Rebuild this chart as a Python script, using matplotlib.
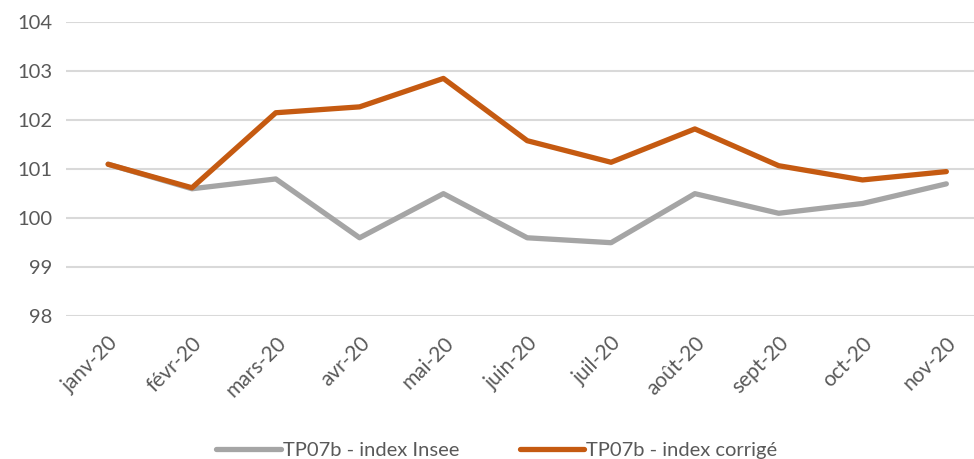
import matplotlib.pyplot as plt

months = ['janv-20', 'févr-20', 'mars-20', 'avr-20', 'mai-20', 'juin-20',
          'juil-20', 'août-20', 'sept-20', 'oct-20', 'nov-20']
insee = [101.1, 100.6, 100.8, 99.6, 100.5, 99.6, 99.5, 100.5, 100.1, 100.3, 100.7]
corrige = [101.1, 100.62, 102.15, 102.27, 102.85, 101.58, 101.14, 101.82, 101.07, 100.78, 100.95]

plt.rcParams['font.family'] = ['Lato', 'DejaVu Sans']

fig = plt.figure(figsize=(9.74, 4.59), dpi=100)
ax = fig.add_axes([0.068, 0.311, 0.932, 0.641])

x = list(range(len(months)))
ax.plot(x, insee, color='#A5A5A5', linewidth=3.8, label='TP07b - index Insee',
        solid_joinstyle='round', solid_capstyle='round', zorder=3)
ax.plot(x, corrige, color='#C55A11', linewidth=3.8, label='TP07b - index corrigé',
        solid_joinstyle='round', solid_capstyle='round', zorder=4)

ax.set_xlim(-0.5, 10.33)
ax.set_ylim(98, 104)
ax.set_yticks(range(98, 105))
ax.set_xticks(x)
ax.set_xticklabels(months, rotation=45, ha='right', rotation_mode='anchor')
ax.tick_params(axis='both', length=0, labelsize=14.5, colors='#595959')
ax.tick_params(axis='x', pad=12, labelsize=15)
ax.tick_params(axis='y', pad=10)
ax.grid(axis='y', color='#D9D9D9', linewidth=1.5)
ax.set_axisbelow(True)
for s in ax.spines.values():
    s.set_visible(False)

fig.legend(loc='lower center', bbox_to_anchor=(0.51, -0.04), ncol=2, frameon=False,
           fontsize=14.5, labelcolor='#595959', handlelength=3.2, columnspacing=3,
           handletextpad=0.1)

fig.savefig('out.png', dpi=100)
